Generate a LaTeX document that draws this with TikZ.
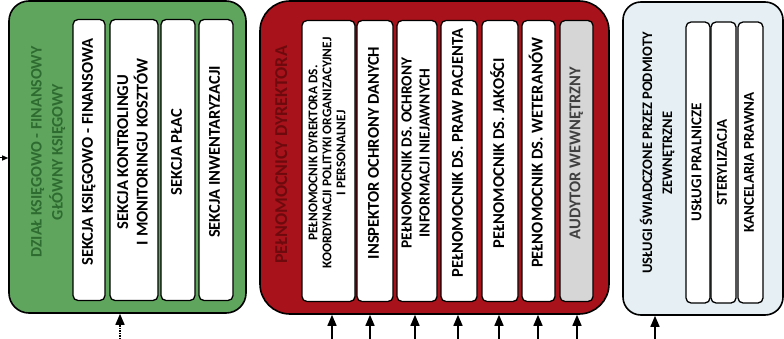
\documentclass[tikz,border=0pt]{standalone}
\usepackage{graphicx}
\usepackage{fontspec}
\setmainfont{Carlito}
\usetikzlibrary{arrows.meta}
\definecolor{zielen}{HTML}{5FA55E}
\definecolor{ciemnazielen}{HTML}{2E6B30}
\definecolor{czerwien}{HTML}{A8121A}
\definecolor{ciemnaczerwien}{HTML}{6E0A0E}
\definecolor{blekit}{HTML}{E6F0F4}
\definecolor{szary}{HTML}{D6D6D6}
% text set vertically, optionally raised
\newcommand{\pion}[2][0pt]{\raisebox{#1}[\height][\depth]{\rotatebox{90}{\begin{tabular}{@{}c@{}}#2\end{tabular}}}}

\begin{document}
\begin{tikzpicture}[x=1pt, y=-1pt, >={Triangle[length=11pt,width=9pt]},
dzial/.style={draw, line width=1.6pt, minimum width=#1},
box/.style={draw, line width=1.3pt, fill=white, rounded corners=5pt, inner sep=0pt,
  minimum height=281pt, font=\bfseries\fontsize{16.5}{19}\selectfont},
tytul/.style={inner sep=0pt, font=\bfseries\fontsize{16}{21}\selectfont},
strzalka/.style={->, line width=1.5pt}]

\useasboundingbox (0,0) rectangle (784,339);

% containers
\node (ksieg) [dzial=237pt, minimum height=312pt, fill=zielen, rounded corners=20pt] at (127.5,157) {};
\node (peln) [dzial=349pt, minimum height=313pt, fill=czerwien, rounded corners=30pt] at (434.5,157.5) {};
\node (uslugi) [dzial=160pt, minimum height=313pt, fill=blekit, rounded corners=18pt] at (703,158.5) {};

% titles
\node (tks) [tytul, text=ciemnazielen] at (48,152) {\pion{DZIAŁ KSIĘGOWO - FINANSOWY\\GŁÓWNY KSIĘGOWY}};
\node (tpd) [tytul, text=ciemnaczerwien, font=\bfseries\fontsize{18}{21}\selectfont] at (283,155) {\pion{PEŁNOMOCNICY DYREKTORA}};
\node (tus) [tytul, font=\bfseries\fontsize{14.5}{20}\selectfont] at (658,153) {\pion{USŁUGI ŚWIADCZONE PRZEZ PODMIOTY\\ZEWNĘTRZNE}};

% dzial ksiegowo-finansowy
\node (kf) [box, minimum width=32pt] at (89,160) {\pion[8pt]{SEKCJA KSIĘGOWO - FINANSOWA}};
\node (kmk) [box, minimum width=48pt] at (134,160) {\pion[8pt]{SEKCJA KONTROLINGU\\I MONITORINGU KOSZTÓW}};
\node (place) [box, minimum width=34pt] at (178,160) {\pion[8pt]{SEKCJA PŁAC}};
\node (inw) [box, minimum width=34pt] at (216,160) {\pion[8pt]{SEKCJA INWENTARYZACJI}};

% pelnomocnicy
\node (pkp) [box, minimum width=53pt, font=\bfseries\fontsize{13.3}{14}\selectfont] at (328.5,161)
  {\pion[8pt]{PEŁNOMOCNIK DYREKTORA DS.\\KOORDYNACJI POLITYKI ORGANIZACYJNEJ\\I PERSONALNEJ}};
\node (iod) [box, minimum width=36pt] at (375,161) {\pion[8pt]{INSPEKTOR OCHRONY DANYCH}};
\node (poin) [box, minimum width=40pt, font=\bfseries\fontsize{15.4}{18}\selectfont] at (417,161)
  {\pion[8pt]{PEŁNOMOCNIK DS. OCHRONY\\INFORMACJI NIEJAWNYCH}};
\node (ppp) [box, minimum width=36pt] at (459,161) {\pion[8pt]{PEŁNOMOCNIK DS. PRAW PACJENTA}};
\node (pj) [box, minimum width=36pt] at (500,161) {\pion[8pt]{PEŁNOMOCNIK DS. JAKOŚCI}};
\node (pw) [box, minimum width=33pt] at (538.5,161) {\pion[8pt]{PEŁNOMOCNIK DS. WETERANÓW}};
\node (aw) [box, minimum width=33pt, fill=szary, text=black!75] at (576.5,161) {\pion[8pt]{AUDYTOR WEWNĘTRZNY}};

% uslugi zewnetrzne
\node (pral) [box, minimum width=24pt, font=\bfseries\fontsize{15}{17}\selectfont] at (698,162.5) {\pion{USŁUGI PRALNICZE}};
\node (ster) [box, minimum width=25pt, font=\bfseries\fontsize{15}{17}\selectfont] at (723.5,162.5) {\pion{STERYLIZACJA}};
\node (kanc) [box, minimum width=25pt, font=\bfseries\fontsize{15}{17}\selectfont] at (750.5,162.5) {\pion{KANCELARIA PRAWNA}};

% incoming arrows
\coordinate (wej) at (0,158);
\coordinate (a0) at (120,339);
\coordinate (a1) at (332,339);
\coordinate (a2) at (370,339);
\coordinate (a3) at (415,339);
\coordinate (a4) at (458,339);
\coordinate (a5) at (499,339);
\coordinate (a6) at (538,339);
\coordinate (a7) at (577,339);
\coordinate (a8) at (655,339);

\draw[strzalka, line width=1pt, >={Triangle[length=6pt,width=5pt]}] (wej) -- (wej -| ksieg.west);
\draw[strzalka, densely dotted] (a0) -- (a0 |- ksieg.south);
\draw[strzalka] (a1) -- (a1 |- peln.south);
\draw[strzalka] (a2) -- (a2 |- peln.south);
\draw[strzalka] (a3) -- (a3 |- peln.south);
\draw[strzalka] (a4) -- (a4 |- peln.south);
\draw[strzalka] (a5) -- (a5 |- peln.south);
\draw[strzalka] (a6) -- (a6 |- peln.south);
\draw[strzalka] (a7) -- (a7 |- peln.south);
\draw[strzalka] (a8) -- (a8 |- uslugi.south);

\end{tikzpicture}
\end{document}
